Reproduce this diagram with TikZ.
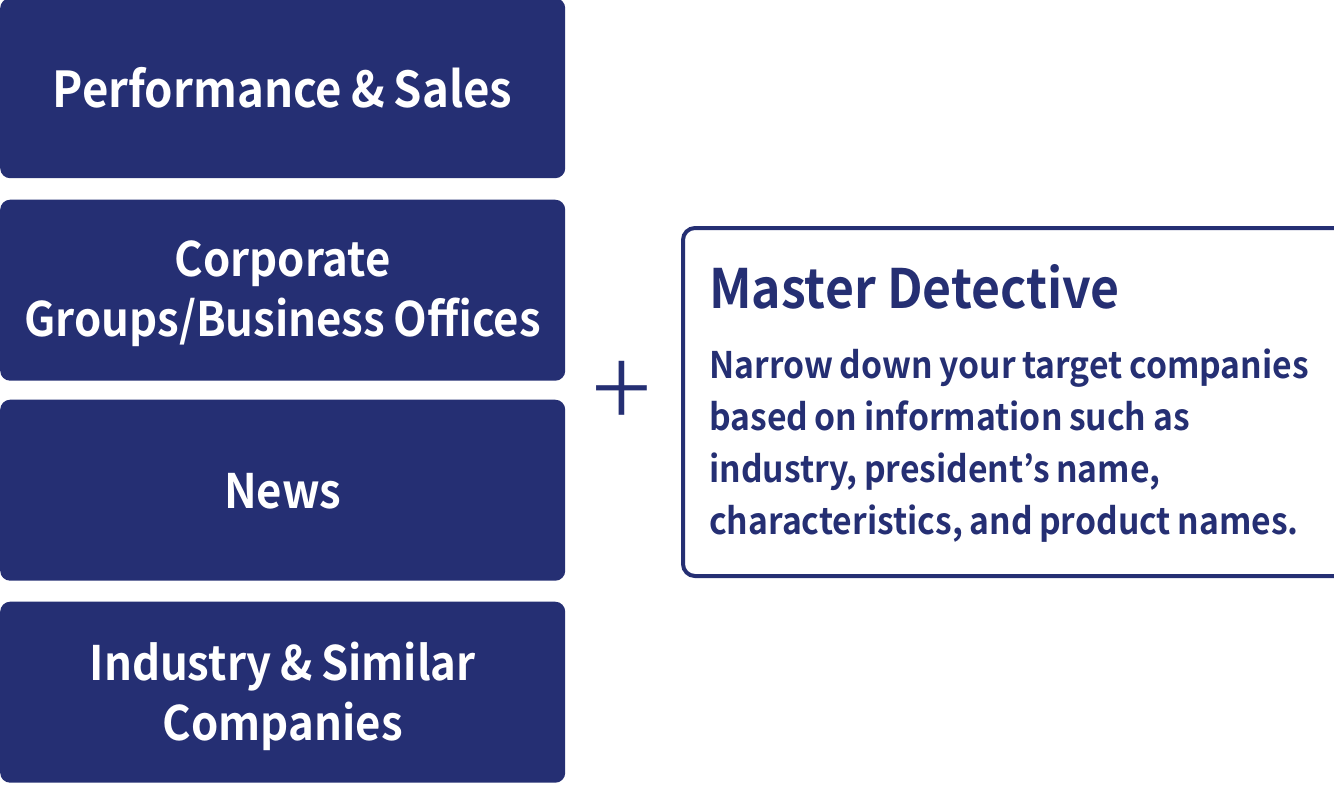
\documentclass[tikz,border=0pt]{standalone}
\usepackage{fontspec}
\setmainfont{Noto Sans CJK JP}[BoldFont={Noto Sans CJK JP Bold},BoldFeatures={FakeStretch=0.92}]
\newfontfamily\plusfont{Noto Sans CJK JP Light}
\usetikzlibrary{positioning}
\definecolor{navy}{HTML}{252F73}
\newcommand{\tightwords}{\spaceskip=.18em\relax}
\tikzstyle{navybox} = [rectangle, rounded corners=10pt, minimum width=565bp, text width=565bp, inner sep=0pt, minimum height=181bp, text centered, fill=navy, text=white, font=\fontsize{47.5bp}{60bp}\selectfont\bfseries]
\begin{document}
\begin{tikzpicture}[x=1bp,y=-1bp]
\useasboundingbox (0,0) rectangle (1334,784);
\node (1)[navybox, anchor=north west, minimum height=180bp, font=\fontsize{49.5bp}{60bp}\selectfont\bfseries] at (0,-2){\tightwords Performance \& Sales};
\node (2)[navybox, anchor=north west] at (0,199.5){\tightwords\rule{0pt}{43bp}Corporate\\Groups/Business Offices};
\node (3)[navybox, anchor=north west] at (0,399.5){\rule{0pt}{38bp}News};
\node (4)[navybox, anchor=north west] at (0,601.5){\tightwords\rule{0pt}{47bp}Industry \& Similar\\Companies};
\node (5)[rectangle, rounded corners=12pt, draw=navy, line width=4bp, fill=white, anchor=north west, minimum width=670bp, minimum height=348bp] at (681,226){};
\node (6)[anchor=north west, inner sep=0pt, text=navy, font=\fontsize{54.3bp}{60bp}\selectfont\bfseries] at (709,264){Master Detective};
\node (7)[anchor=north west, inner sep=0pt, text=navy, text width=625bp, align=left, font=\fontsize{36.6bp}{52bp}\selectfont\bfseries] at (709,348.5){\tightwords Narrow down your target companies\\based on information such as\\industry, president’s name,\\characteristics, and product names.};
\node (8)[text=navy, inner sep=0pt, font=\plusfont\fontsize{110bp}{110bp}\selectfont] at (622,395){+};
\end{tikzpicture}
\end{document}
